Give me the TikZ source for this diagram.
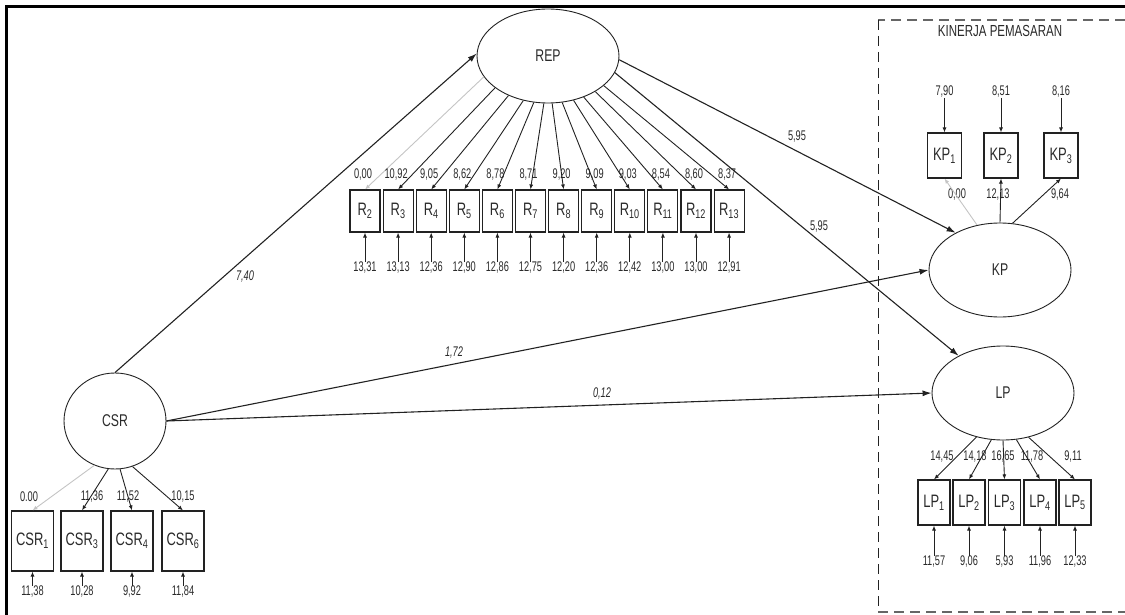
\documentclass[tikz,border=0pt]{standalone}
\usepackage{fontspec}
\setmainfont[FakeStretch=0.72]{Liberation Sans}
\newfontfamily\numfont[FakeStretch=0.66]{Liberation Sans}
\usetikzlibrary{arrows.meta,shapes.geometric}
\definecolor{ink}{HTML}{222222}
\definecolor{txt}{HTML}{2A2A2A}
\definecolor{pale}{HTML}{C4C4C4}
\definecolor{dashc}{HTML}{666666}
\begin{document}
\begin{tikzpicture}[x=1pt,y=-1pt,
  lat/.style={draw=ink, line width=0.9pt, ellipse, minimum width=142pt, minimum height=94pt, inner sep=0pt, text=txt, font=\fontsize{17}{17}\selectfont},
  ind/.style={draw=ink, line width=1.1pt, rectangle, inner sep=0pt, text=txt, font=\fontsize{18}{18}\selectfont},
  num/.style={inner sep=0pt, text=txt, font=\numfont\fontsize{14}{14}\selectfont},
  pnum/.style={num, font=\numfont\fontsize{14}{14}\selectfont\itshape},
  ld/.style={draw=ink, line width=0.9pt, -{Latex[length=5pt,width=4pt]}},
  gl/.style={ld, draw=pale},
  pth/.style={draw=ink, line width=1.1pt, -{Latex[length=9pt,width=6pt]}}
]
\useasboundingbox (0,0) rectangle (1125,615);

% outer frame
\draw[line width=3pt, black] (6.5,615) -- (6.5,6.5) -- (1125,6.5);

% dashed group box
\draw[dashc, line width=2pt, dash pattern=on 10pt off 6pt] (1125,20) -- (878,20);
\draw[dashc, line width=2pt, dash pattern=on 10pt off 6pt] (878,612) -- (1125,612);
\draw[ink, line width=1pt, dash pattern=on 10pt off 6pt] (878,20) -- (878,612);
\node[inner sep=0pt, text=txt, font=\fontsize{16}{16}\selectfont] (KPtitle) at (1000,31) {KINERJA PEMASARAN};

% latent variables
\node[lat] (REP) at (548,56) {REP};
\node[lat, minimum width=102pt, minimum height=96pt] (CSR) at (115,421) {CSR};
\node[lat] (KP) at (1000,270) {KP};
\node[lat] (LP) at (1003,393) {LP};

% REP indicators
\foreach \i/\ang/\st/\lo/\er [count=\k from 0] in {
  2/198.7/gl/{0,00}/{13,31}, 3/211/ld/{10,92}/{13,13}, 4/225.7/ld/{9,05}/{12,36},
  5/241/ld/{8,62}/{12,90}, 6/253/ld/{8,78}/{12,86}, 7/265.5/ld/{8,71}/{12,75},
  8/275.6/ld/{9,20}/{12,20}, 9/287/ld/{9,09}/{12,36}, 10/300/ld/{9,03}/{12,42},
  11/311/ld/{8,54}/{13,00}, 12/323.5/ld/{8,60}/{13,00}, 13/332.7/ld/{8,37}/{12,91}}
{
  \node[ind, minimum width=30pt, minimum height=42pt] (R\i) at ({365+33.1*\k},211) {R\textsubscript{\i}};
  \node[num] (RL\i) at ({363+33.1*\k},175) {\lo};
  \node[num] (RE\i) at ({365+33.1*\k},268) {\er};
  \draw[ld] (RE\i.north) -- (R\i.south);
  \draw[\st] (REP.\ang) -- (R\i.north);
}

% CSR indicators
\foreach \i/\x/\ang/\st/\lx/\lo/\er in {
  1/32.5/245/gl/29/{0.00}/{11,38}, 3/82/262/ld/92/{11,36}/{10,28},
  4/132/276/ld/128/{11,52}/{9,92}, 6/183/291/ld/183/{10,15}/{11,84}}
{
  \node[ind, minimum width=42pt, minimum height=60pt] (C\i) at (\x,541) {CSR\textsubscript{\i}};
  \node[num] (CL\i) at (\lx,497) {\lo};
  \node[num] (CE\i) at (\x,592) {\er};
  \draw[ld] (CE\i.north) -- (C\i.south);
  \draw[\st] (CSR.\ang) -- (C\i.north);
}

% KP indicators
\foreach \i/\x/\ang/\st/\lx/\lo/\er in {
  1/944.5/117/gl/957/{0,00}/{7,90}, 2/1001/90/ld/998/{12,13}/{8,51},
  3/1061/75.5/ld/1060/{9,64}/{8,16}}
{
  \node[ind, minimum width=34pt, minimum height=45pt] (K\i) at (\x,155.5) {KP\textsubscript{\i}};
  \node[num] (KL\i) at (\lx,195) {\lo};
  \node[num] (KE\i) at (\x,92) {\er};
  \draw[ld] (KE\i.south) -- (K\i.north);
  \draw[\st] (KP.\ang) -- (K\i.south);
}

% LP indicators
\foreach \i/\x/\ang/\lx/\lo/\er in {
  1/934/239.2/942/{14,45}/{11,57}, 2/969/256.7/975/{14,18}/{9,06},
  3/1004.5/270/1003/{16,65}/{5,93}, 4/1040/286.9/1032/{11,78}/{11,96},
  5/1075/300.8/1073/{9,11}/{12,33}}
{
  \node[ind, minimum width=32pt, minimum height=45pt] (L\i) at (\x,502.5) {LP\textsubscript{\i}};
  \node[num] (LL\i) at (\lx,457) {\lo};
  \node[num] (LE\i) at (\x,562) {\er};
  \draw[ld] (LE\i.north) -- (L\i.south);
  \draw[ld] (LP.\ang) -- (L\i.north);
}

% structural paths
\draw[pth] (CSR.90) -- (REP.178);
\node[pnum] (p1) at (245,277) {7,40};
\draw[pth] (REP.357) -- (KP.140.6);
\node[num] (p2) at (797,137) {5,95};
\draw[pth] (REP.346.8) -- (LP.140);
\node[num] (p3) at (819,227) {5,95};
\draw[pth] (CSR.east) -- (KP.180);
\node[pnum] (p4) at (454,353) {1,72};
\draw[pth] (CSR.east) -- (LP.west);
\node[pnum] (p5) at (602,394) {0,12};
\end{tikzpicture}
\end{document}
